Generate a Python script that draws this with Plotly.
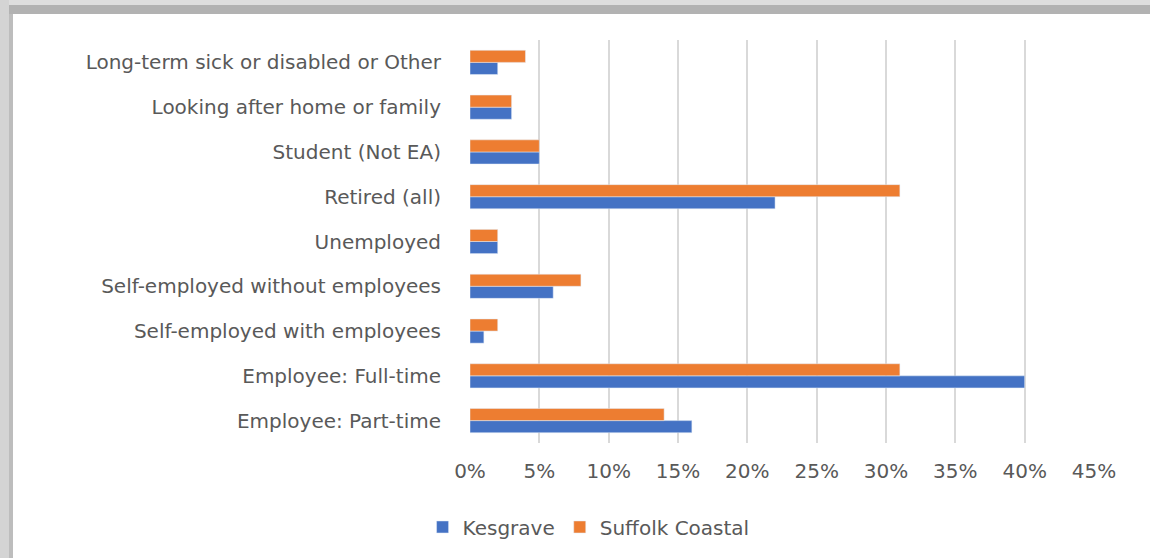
"""Economic activity: Kesgrave vs Suffolk Coastal, horizontal grouped bars."""
import plotly.graph_objects as go

categories = [
    "Employee: Part-time",
    "Employee: Full-time",
    "Self-employed with employees",
    "Self-employed without employees",
    "Unemployed",
    "Retired (all)",
    "Student (Not EA)",
    "Looking after home or family",
    "Long-term sick or disabled or Other",
]
kesgrave = [16, 40, 1, 6, 2, 22, 5, 3, 2]
suffolk_coastal = [14, 31, 2, 8, 2, 31, 5, 3, 4]
x_ticks = list(range(0, 50, 5))
x_tick_labels = [f"{t}%" for t in x_ticks]

FONT = "DejaVu Sans"
GREY = "#595959"

fig = go.Figure()
fig.add_trace(go.Bar(y=categories, x=kesgrave, name="Kesgrave", orientation="h",
                     marker=dict(color="#4472C4")))
fig.add_trace(go.Bar(y=categories, x=suffolk_coastal, name="Suffolk Coastal", orientation="h",
                     marker=dict(color="#ED7D31")))

# grey frame like the pasted screenshot (pixel boxes, converted to paper coords)
frame = [
    dict(x0=0, x1=1150, y0=0, y1=5, color="#dedede"),
    dict(x0=0, x1=1150, y0=5, y1=14, color="#b2b2b2"),
    dict(x0=0, x1=9, y0=0, y1=558, color="#d4d4d4"),
    dict(x0=9, x1=13, y0=14, y1=558, color="#bdbdbd"),
]
L, R, T, B = 470, 1094, 40, 443
shapes = []
for f in frame:
    shapes.append(dict(type="rect", xref="paper", yref="paper", line=dict(width=0),
                       fillcolor=f["color"], layer="below",
                       x0=(f["x0"] - L) / (R - L), x1=(f["x1"] - L) / (R - L),
                       y0=(B - f["y1"]) / (B - T), y1=(B - f["y0"]) / (B - T)))

fig.update_layout(
    width=1150, height=558,
    margin=dict(l=L, r=1150 - R, t=T, b=558 - B),
    barmode="group", bargap=0.46, bargroupgap=0,
    plot_bgcolor="white", paper_bgcolor="white",
    font=dict(family=FONT, size=20, color=GREY),
    shapes=shapes,
    showlegend=True,
    legend=dict(orientation="h", x=-0.076, xanchor="left", y=-0.16, yanchor="top",
                traceorder="normal", font=dict(size=20, color=GREY)),
    xaxis=dict(range=[0, 45], tickvals=x_ticks, ticktext=x_tick_labels,
               showgrid=True, gridcolor="#d9d9d9", gridwidth=2,
               zeroline=False, showline=False, ticks="", ticklabelstandoff=14),
    yaxis=dict(showgrid=False, zeroline=False, showline=False, ticks="",
               ticklabelstandoff=28),
)

fig.write_html("out.html", config={"displayModeBar": False},
               post_script="document.body.style.margin='0';")
